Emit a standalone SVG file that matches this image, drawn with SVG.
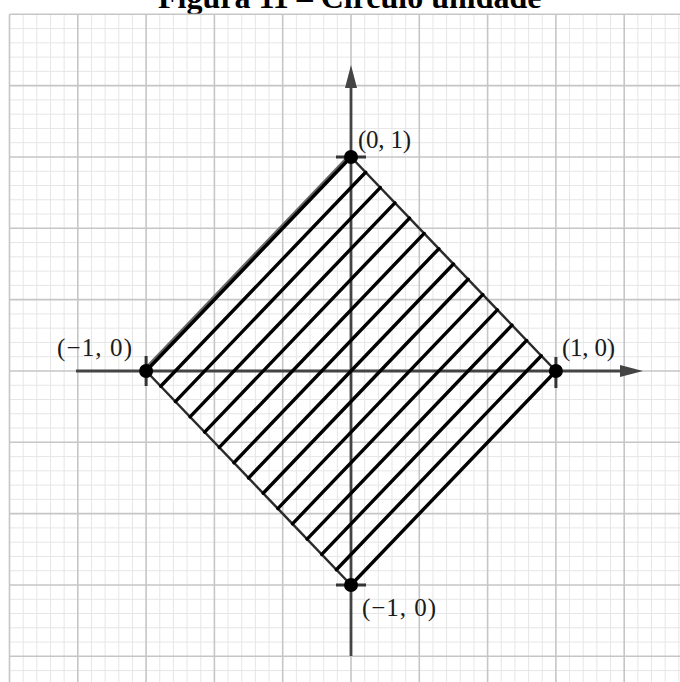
<svg xmlns="http://www.w3.org/2000/svg" width="680" height="682" viewBox="0 0 680 682">
<style>
.title{font-family:"Liberation Serif","Times New Roman",serif;font-weight:bold;font-size:32px;fill:#000}
.lbl{font-family:"Liberation Serif","DejaVu Serif",serif;font-size:25px;fill:#1a1a1a}
.minor{stroke:#e6e6e6;stroke-width:1;fill:none}
.major{stroke:#c6c6c6;stroke-width:1.6;fill:none}
.axis{stroke:#444;stroke-width:2.8;fill:none}
.hatch{stroke:#000;stroke-width:3.4;fill:none;stroke-linecap:round}
.edge{stroke:#2a2a2a;stroke-width:2.5;fill:none}
.tick{stroke:#333;stroke-width:3;fill:none}
.pt{fill:#000}
</style>
<defs>
<marker id="arr" viewBox="0 0 23 12" refX="0" refY="6" markerWidth="23" markerHeight="12" markerUnits="userSpaceOnUse" orient="auto">
<path d="M0,0 L23,6 L0,12 Z" fill="#444"/>
</marker>
</defs>
<rect width="680" height="682" fill="#fff"/>
<text class="title" x="158" y="8">Figura 11 – Círculo unidade</text>
<g id="grid">
<path class="minor" d="M23.16,14.3V682M36.82,14.3V682M50.48,14.3V682M64.14,14.3V682M91.46,14.3V682M105.12,14.3V682M118.78,14.3V682M132.44,14.3V682M159.76,14.3V682M173.42,14.3V682M187.08,14.3V682M200.74,14.3V682M228.06,14.3V682M241.72,14.3V682M255.38,14.3V682M269.04,14.3V682M296.36,14.3V682M310.02,14.3V682M323.68,14.3V682M337.34,14.3V682M364.66,14.3V682M378.32,14.3V682M391.98,14.3V682M405.64,14.3V682M432.96,14.3V682M446.62,14.3V682M460.28,14.3V682M473.94,14.3V682M501.26,14.3V682M514.92,14.3V682M528.58,14.3V682M542.24,14.3V682M569.56,14.3V682M583.22,14.3V682M596.88,14.3V682M610.54,14.3V682M637.86,14.3V682M651.52,14.3V682M665.18,14.3V682M678.84,14.3V682
M9.5,28.57H680M9.5,42.83H680M9.5,57.1H680M9.5,71.37H680M9.5,99.9H680M9.5,114.17H680M9.5,128.44H680M9.5,142.7H680M9.5,171.24H680M9.5,185.5H680M9.5,199.77H680M9.5,214.04H680M9.5,242.57H680M9.5,256.84H680M9.5,271.11H680M9.5,285.37H680M9.5,313.91H680M9.5,328.17H680M9.5,342.44H680M9.5,356.71H680M9.5,385.24H680M9.5,399.51H680M9.5,413.78H680M9.5,428.04H680M9.5,456.58H680M9.5,470.84H680M9.5,485.11H680M9.5,499.38H680M9.5,527.91H680M9.5,542.18H680M9.5,556.45H680M9.5,570.71H680M9.5,599.25H680M9.5,613.51H680M9.5,627.78H680M9.5,642.05H680M9.5,670.58H680"/>
<path class="major" d="M9.5,14.3V682M77.8,14.3V682M146.1,14.3V682M214.4,14.3V682M282.7,14.3V682M351,14.3V682M419.3,14.3V682M487.6,14.3V682M555.9,14.3V682M624.2,14.3V682
M9.5,14.3H680M9.5,85.63H680M9.5,156.97H680M9.5,228.3H680M9.5,299.64H680M9.5,370.97H680M9.5,442.31H680M9.5,513.64H680M9.5,584.98H680M9.5,656.31H680"/>
</g>
<g id="connectors">
<line id="x-axis" class="axis" x1="76" y1="371" x2="620" y2="371" marker-end="url(#arr)"/>
<line id="y-axis" class="axis" x1="351" y1="656" x2="351" y2="88" marker-end="url(#arr)"/>
</g>
<g id="region">
<line class="edge" x1="351" y1="157" x2="555.9" y2="371"/>
<line class="edge" x1="146.1" y1="371" x2="351" y2="585"/>
<line stroke="#666" stroke-width="3.2" x1="144.6" y1="369.5" x2="349.5" y2="155.5"/>
<path class="hatch" d="M351,157L146.1,371M365.64,172.29L160.74,386.29M380.27,187.57L175.37,401.57M394.91,202.86L190.01,416.86M409.54,218.14L204.64,432.14M424.18,233.43L219.28,447.43M438.82,248.71L233.92,462.71M453.45,264L248.55,478M468.09,279.29L263.19,493.29M482.72,294.57L277.82,508.57M497.36,309.86L292.46,523.86M512,325.14L307.1,539.14M526.63,340.43L321.73,554.43M541.27,355.71L336.37,569.71M555.9,371L351,585"/>
</g>
<g id="p-top">
<line class="tick" x1="336" y1="157" x2="366" y2="157"/>
<circle class="pt" cx="351" cy="157" r="7"/>
<text class="lbl" x="358" y="148" textLength="53" lengthAdjust="spacing">(0, 1)</text>
</g>
<g id="p-left">
<line class="tick" x1="146.1" y1="356" x2="146.1" y2="386"/>
<circle class="pt" cx="146.1" cy="371" r="7"/>
<text class="lbl" x="57" y="356" textLength="75" lengthAdjust="spacing">(−1, 0)</text>
</g>
<g id="p-right">
<line class="tick" x1="555.9" y1="357" x2="555.9" y2="388"/>
<circle class="pt" cx="555.9" cy="371" r="7"/>
<text class="lbl" x="562" y="356" textLength="53" lengthAdjust="spacing">(1, 0)</text>
</g>
<g id="p-bottom">
<line class="tick" x1="336" y1="585" x2="366" y2="585"/>
<circle class="pt" cx="351" cy="585" r="7"/>
<text class="lbl" x="362" y="616" textLength="74" lengthAdjust="spacing">(−1, 0)</text>
</g>
</svg>
